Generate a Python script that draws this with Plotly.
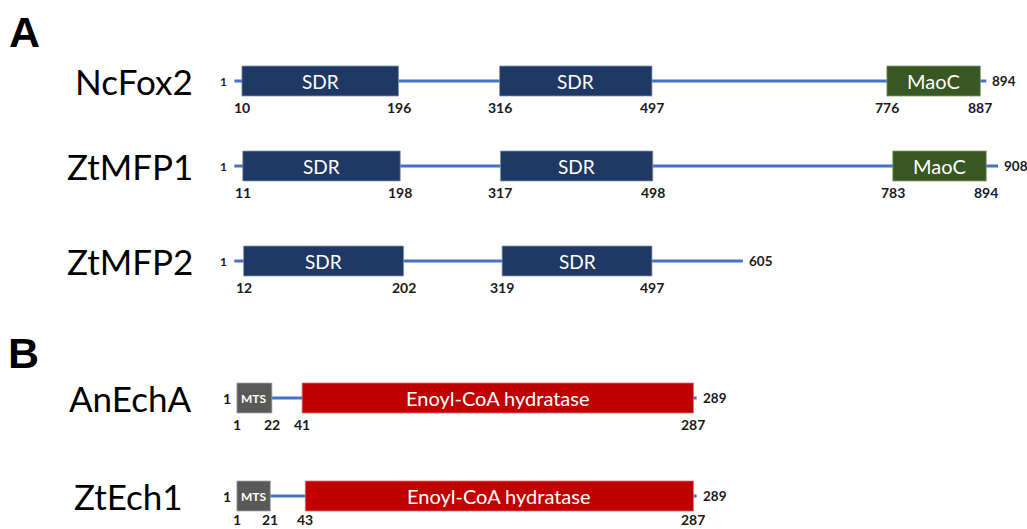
import plotly.graph_objects as go

# ---------------- data ----------------
A_names = ["NcFox2", "ZtMFP1", "ZtMFP2"]
A_lengths = [894, 908, 605]
A_dom_protein = [0, 0, 0, 1, 1, 1, 2, 2]
A_dom_label = ["SDR", "SDR", "MaoC", "SDR", "SDR", "MaoC", "SDR", "SDR"]
A_dom_start = [10, 316, 776, 11, 317, 783, 12, 319]
A_dom_end = [196, 497, 887, 198, 498, 894, 202, 497]

B_names = ["AnEchA", "ZtEch1"]
B_lengths = [289, 289]
B_dom_protein = [0, 0, 1, 1]
B_dom_label = ["MTS", "Enoyl-CoA hydratase", "MTS", "Enoyl-CoA hydratase"]
B_dom_start = [1, 41, 1, 43]
B_dom_end = [22, 287, 21, 287]

panel_letters = ["A", "B"]

# ---------------- styles / layout ----------------
W, H = 1027, 529
dom_fill = {"SDR": "#203864", "MaoC": "#385723", "MTS": "#595959",
            "Enoyl-CoA hydratase": "#C00000"}
dom_edge = {"SDR": "#8497B0", "MaoC": "#7F9F6A", "MTS": "#A6A6A6",
            "Enoyl-CoA hydratase": "#E07070"}
dom_font = {"SDR": 19, "MaoC": 20, "MTS": 12, "Enoyl-CoA hydratase": 20}
line_color = "#4472C4"
FONT = "Lato"
NUMC = "#1a1a1a"

A_rows_y = [81, 166, 261]
B_rows_y = [398, 496]
A_name_x = [134, 130, 130]
B_name_x = [130, 128]
half_h = 15
num_dy = 26

# screen pixel = a + b * residue  (per panel)
aA, bA = 233.5, 0.842
aB, bB = 236.9, 1.5908

fig = go.Figure()

def panel(names, lengths, dprot, dlab, dst, den, rows_y, name_x, xr, left_size):
    for i, (nm, L) in enumerate(zip(names, lengths)):
        y = rows_y[i]
        fig.add_trace(go.Scatter(x=[1, L], y=[y, y], mode="lines", xaxis=xr, yaxis="y",
                                 line=dict(color=line_color, width=3), hoverinfo="skip",
                                 showlegend=False))
        fig.add_annotation(x=name_x[i] / W, xref="paper", y=y, yref="y", text=nm,
                           showarrow=False, xanchor="center", yanchor="middle",
                           font=dict(family=FONT, size=35, color="black"))
        fig.add_annotation(x=1, xref=xr, y=y, yref="y", text="<b>1</b>", showarrow=False,
                           xanchor="right", yanchor="middle", xshift=-5,
                           font=dict(family=FONT, size=left_size, color=NUMC))
        fig.add_annotation(x=L, xref=xr, y=y, yref="y", text=f"<b>{L}</b>", showarrow=False,
                           xanchor="left", yanchor="middle", xshift=4,
                           font=dict(family=FONT, size=13.5, color=NUMC))
    for p, lab, s, e in zip(dprot, dlab, dst, den):
        y = rows_y[p]
        x0 = s - 1 if s == 1 else s
        fig.add_shape(type="rect", xref=xr, yref="y", x0=x0, x1=e, y0=y - half_h, y1=y + half_h,
                      fillcolor=dom_fill[lab], line=dict(color=dom_edge[lab], width=0.8),
                      layer="above")
        txt = f"<b>{lab}</b>" if lab == "MTS" else lab
        fig.add_annotation(x=(x0 + e) / 2, xref=xr, y=y, yref="y", text=txt, showarrow=False,
                           xanchor="center", yanchor="middle",
                           font=dict(family=FONT, size=dom_font[lab], color="white"))
        ylab = min(y + num_dy, H - 10)  # keep the lowest labels inside the page
        for v, xv in ((s, x0), (e, e)):
            fig.add_annotation(x=xv, xref=xr, y=ylab, yref="y", text=f"<b>{v}</b>",
                               showarrow=False, xanchor="center", yanchor="middle",
                               font=dict(family=FONT, size=14, color=NUMC))

panel(A_names, A_lengths, A_dom_protein, A_dom_label, A_dom_start, A_dom_end,
      A_rows_y, A_name_x, "x", 12)
panel(B_names, B_lengths, B_dom_protein, B_dom_label, B_dom_start, B_dom_end,
      B_rows_y, B_name_x, "x2", 14)

for letter, (px, py) in zip(panel_letters, [(24, 32), (23, 353)]):
    fig.add_annotation(x=px / W, xref="paper", y=py, yref="y", text=f"<b>{letter}</b>",
                       showarrow=False, xanchor="center", yanchor="middle",
                       font=dict(family="Liberation Sans", size=43, color="black"))

fig.update_layout(
    width=W, height=H,
    margin=dict(l=0, r=0, t=0, b=0),
    paper_bgcolor="white", plot_bgcolor="white",
    hovermode=False, showlegend=False,
    xaxis=dict(range=[-aA / bA, (W - aA) / bA], visible=False, fixedrange=True, domain=[0, 1]),
    xaxis2=dict(range=[-aB / bB, (W - aB) / bB], visible=False,
                fixedrange=True, overlaying="x", anchor="y", domain=[0, 1]),
    yaxis=dict(range=[H, 0], visible=False, fixedrange=True, domain=[0, 1]),
)

fig.write_html(
    "out.html",
    config={"displayModeBar": False, "staticPlot": True},
    post_script="document.body.style.margin='0';document.body.style.overflow='hidden';",
)
